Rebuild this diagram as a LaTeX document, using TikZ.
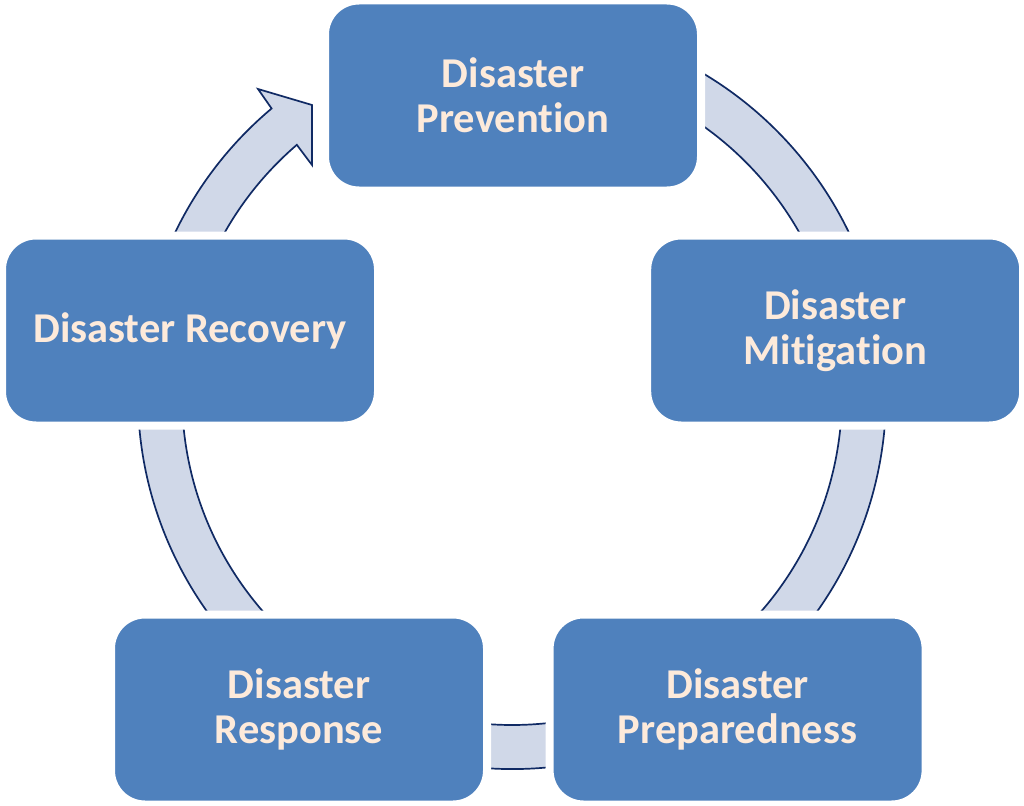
\documentclass[tikz,border=0pt]{standalone}
\usepackage{fontspec}
\setmainfont{Carlito}[RawFeature={-liga}]
\usepackage[outline]{contour}
\contourlength{1.6pt}
\definecolor{boxblue}{RGB}{79,129,189}
\definecolor{bandfill}{RGB}{208,216,232}
\definecolor{bandline}{RGB}{16,42,100}
\definecolor{textcream}{RGB}{253,234,218}
\definecolor{glow}{RGB}{66,126,206}
\newcommand{\lbl}[1]{\contour{glow}{#1}}
\begin{document}
\begin{tikzpicture}[x=1pt,y=-1pt,
  stagebox/.style={rounded corners=34pt, fill=boxblue, draw=white, line width=8pt,
    minimum width=376pt, minimum height=190pt, inner sep=0pt, align=center,
    font=\fontsize{42.5}{45}\selectfont\bfseries, text=textcream},
  band/.style={fill=bandfill, draw=bandline, line width=1.7pt, line join=miter}]
\useasboundingbox (0,0) rectangle (1024,805);
\coordinate (C) at (512,395);
\coordinate (tipA) at (258,89);
\coordinate (tipB) at (312,105);
\coordinate (tipC) at (312,165);
\draw[band] ([shift={(-80:374)}]C) arc[start angle=-80, end angle=230, radius=374]
  -- (tipA) -- (tipB) -- (tipC) -- ([shift={(229.3:330)}]C)
  arc[start angle=229.3, end angle=-80, radius=330] -- cycle;
\node[stagebox] (prev) at (513,95.5) {\lbl{Disaster}\\\lbl{Prevention}};
\node[stagebox] (miti) at (835.2,330.5) {\lbl{Disaster}\\\lbl{Mitigation}};
\node[stagebox] (prep) at (737.6,709.5) {\lbl{Disaster}\\\lbl{Preparedness}};
\node[stagebox] (resp) at (299,709.5) {\lbl{Disaster}\\\lbl{Response}};
\node[stagebox] (reco) at (190,330.5) {\lbl{Disaster Recovery}};
\end{tikzpicture}
\end{document}
